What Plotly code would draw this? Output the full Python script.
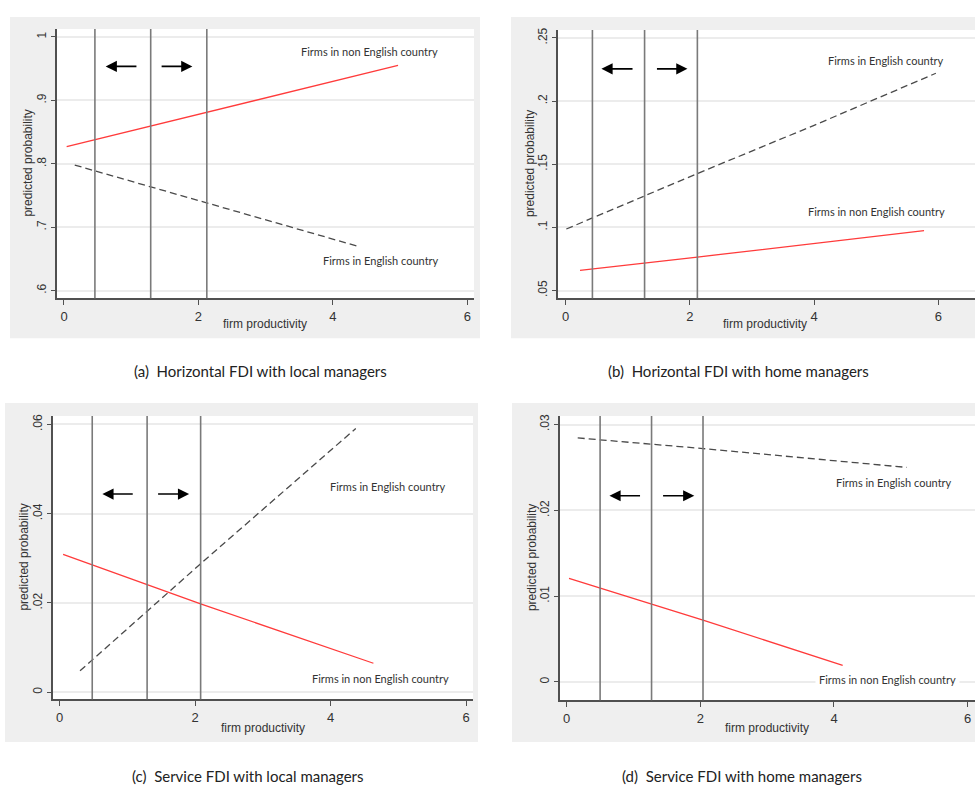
import plotly.graph_objects as go

W, H = 975, 787

# ---------------- data ----------------
panels = ["a", "b", "c", "d"]

# firm productivity thresholds (vertical lines)
vlines_a = [0.46, 1.29, 2.125]
vlines_b = [0.43, 1.27, 2.12]
vlines_c = [0.48, 1.29, 2.08]
vlines_d = [0.50, 1.27, 2.04]

# Firms in English country (dashed)
eng_x_a = [0.16, 2.125, 4.37]
eng_y_a = [0.798, 0.738, 0.670]
eng_x_b = [0.01, 2.12, 4.0, 5.96]
eng_y_b = [0.0987, 0.1426, 0.1808, 0.222]
eng_x_c = [0.30, 1.29, 2.08, 4.37]
eng_y_c = [0.0048, 0.0181, 0.0288, 0.0591]
eng_x_d = [0.165, 2.04, 5.09]
eng_y_d = [0.02844, 0.0272, 0.0250]

# Firms in non English country (solid red)
non_x_a = [0.04, 2.125, 4.97]
non_y_a = [0.827, 0.881, 0.955]
non_x_b = [0.23, 2.12, 5.77]
non_y_b = [0.066, 0.0765, 0.0974]
non_x_c = [0.05, 2.08, 4.63]
non_y_c = [0.0309, 0.0198, 0.0065]
non_x_d = [0.035, 2.04, 4.13]
non_y_d = [0.01206, 0.0072, 0.00194]

# y ticks
yt_vals_a = [0.6, 0.7, 0.8, 0.9, 1.0]
yt_text_a = [".6", ".7", ".8", ".9", "1"]
yt_vals_b = [0.05, 0.10, 0.15, 0.20, 0.25]
yt_text_b = [".05", ".1", ".15", ".2", ".25"]
yt_vals_c = [0.0, 0.02, 0.04, 0.06]
yt_text_c = ["0", ".02", ".04", ".06"]
yt_vals_d = [0.0, 0.01, 0.02, 0.03]
yt_text_d = ["0", ".01", ".02", ".03"]

xt_vals = [0, 2, 4, 6]
xt_text = ["0", "2", "4", "6"]

# label positions (data coords)
lab_eng_a, lab_non_a = (4.72, 0.647), (4.55, 0.977)
lab_eng_b, lab_non_b = (5.15, 0.232), (5.0, 0.1126)
lab_eng_c, lab_non_c = (4.85, 0.046), (4.73, 0.0031)
lab_eng_d, lab_non_d = (4.9, 0.0233), (4.8, 0.0003)

# arrows: (tail x, head x, y)
arr_a = [(1.10, 0.62, 0.9535), (1.43, 1.91, 0.9535)]
arr_b = [(1.10, 0.575, 0.2255), (1.445, 1.96, 0.2255)]
arr_c = [(1.10, 0.63, 0.0444), (1.43, 1.91, 0.0444)]
arr_d = [(1.12, 0.64, 0.0217), (1.42, 1.91, 0.0217)]

captions = ["(a)  Horizontal FDI with local managers",
            "(b)  Horizontal FDI with home managers",
            "(c)  Service FDI with local managers",
            "(d)  Service FDI with home managers"]

# ---------------- layout geometry (pixels) ----------------
geo = {
    "a": dict(px=(57, 474), py=(27, 297), xr=(-0.104, 6.1), yr=(0.588, 1.0126), bg=(10, 480, 15, 337)),
    "b": dict(px=(558, 975), py=(28, 297), xr=(-0.124, 6.59), yr=(0.0439, 0.2563), bg=(511, 975, 15, 337)),
    "c": dict(px=(53, 473), py=(415, 699), xr=(-0.099, 6.1), yr=(-0.00156, 0.0619), bg=(5, 478, 402, 742)),
    "d": dict(px=(560, 975), py=(415, 700), xr=(-0.1, 6.11), yr=(-0.00213, 0.031), bg=(512, 975, 402, 742)),
}
cap_pos = [(260, 370), (738, 370), (248, 776), (742, 776)]
xtitle_pos = {"a": (265, 323), "b": (765, 323), "c": (263, 728), "d": (767, 728)}
ytitle_x = {"a": 28, "b": 530, "c": 24, "d": 532}

data = {
    "a": (vlines_a, eng_x_a, eng_y_a, non_x_a, non_y_a, yt_vals_a, yt_text_a, lab_eng_a, lab_non_a, arr_a),
    "b": (vlines_b, eng_x_b, eng_y_b, non_x_b, non_y_b, yt_vals_b, yt_text_b, lab_eng_b, lab_non_b, arr_b),
    "c": (vlines_c, eng_x_c, eng_y_c, non_x_c, non_y_c, yt_vals_c, yt_text_c, lab_eng_c, lab_non_c, arr_c),
    "d": (vlines_d, eng_x_d, eng_y_d, non_x_d, non_y_d, yt_vals_d, yt_text_d, lab_eng_d, lab_non_d, arr_d),
}

AX_FONT = "Liberation Sans Narrow, Arial Narrow, Liberation Sans, Arial"
LAB_FONT = "Lato, Carlito, Calibri, sans-serif"

fig = go.Figure()
shapes, annotations = [], []
layout = dict(width=W, height=H, margin=dict(l=0, r=0, t=0, b=0),
              paper_bgcolor="white", plot_bgcolor="white", showlegend=False)

for i, p in enumerate(panels):
    g = geo[p]
    vl, ex, ey, nx, ny, ytv, ytt, le, ln, arrs = data[p]
    n = "" if i == 0 else str(i + 1)
    xa, ya = "x" + n, "y" + n
    bx0, bx1, by0, by1 = g["bg"]
    shapes.append(dict(type="rect", xref="paper", yref="paper", layer="below",
                       x0=bx0 / W, x1=bx1 / W, y0=1 - by1 / H, y1=1 - by0 / H,
                       fillcolor="#efefef", line=dict(width=0)))
    shapes.append(dict(type="rect", xref="paper", yref="paper", layer="below",
                       x0=g["px"][0] / W, x1=g["px"][1] / W, y0=1 - g["py"][1] / H, y1=1 - g["py"][0] / H,
                       fillcolor="white", line=dict(width=0)))
    layout["xaxis" + n] = dict(domain=[g["px"][0] / W, g["px"][1] / W], range=list(g["xr"]),
                               anchor=ya, showgrid=False, zeroline=False, showline=True,
                               linecolor="#505050", linewidth=1.5, ticks="outside", ticklen=5,
                               tickwidth=1, tickcolor="#505050", tickvals=xt_vals, ticktext=xt_text,
                               tickfont=dict(family=AX_FONT, size=13, color="#333"), fixedrange=True)
    layout["yaxis" + n] = dict(domain=[1 - g["py"][1] / H, 1 - g["py"][0] / H], range=list(g["yr"]),
                               anchor=xa, showgrid=True, gridcolor="#ececec", gridwidth=1.5,
                               zeroline=False, showline=True,
                               linecolor="#505050", linewidth=1.5, ticks="outside", ticklen=4,
                               tickwidth=1, tickcolor="#505050", tickvals=ytv, ticktext=ytt,
                               tickangle=-90,
                               tickfont=dict(family=AX_FONT, size=12, color="#333"),
                               fixedrange=True)
    for v in vl:
        shapes.append(dict(type="line", xref=xa, yref=ya + " domain", x0=v, x1=v, y0=0, y1=1,
                           line=dict(color="#7a7a7a", width=1.6)))
    fig.add_trace(go.Scatter(x=ex, y=ey, mode="lines", xaxis=xa, yaxis=ya,
                             line=dict(color="#4a4a4a", width=1.3, dash="7px,4px")))
    fig.add_trace(go.Scatter(x=nx, y=ny, mode="lines", xaxis=xa, yaxis=ya,
                             line=dict(color="#ff3b3b", width=1.3)))
    annotations.append(dict(x=le[0], y=le[1], xref=xa, yref=ya, text="Firms in English country",
                            xanchor="center", yanchor="middle",
                            showarrow=False, font=dict(family=LAB_FONT, size=11, color="#333"),
                            bgcolor="white", borderpad=3))
    annotations.append(dict(x=ln[0], y=ln[1], xref=xa, yref=ya, text="Firms in non English country",
                            xanchor="center", yanchor="middle",
                            showarrow=False, font=dict(family=LAB_FONT, size=11, color="#333"),
                            bgcolor="white", borderpad=3))
    for tx, hx, yy in arrs:
        annotations.append(dict(x=hx, y=yy, ax=tx, ay=yy, xref=xa, yref=ya, axref=xa, ayref=ya,
                                text="", showarrow=True, arrowhead=2, arrowsize=1.4,
                                arrowwidth=1.6, arrowcolor="black"))
    tx, ty = xtitle_pos[p]
    annotations.append(dict(x=tx / W, y=1 - ty / H, xref="paper", yref="paper",
                            xanchor="center", yanchor="middle",
                            text="firm productivity", showarrow=False,
                            font=dict(family=AX_FONT, size=12, color="#333")))
    yc = (g["py"][0] + g["py"][1]) / 2
    annotations.append(dict(x=ytitle_x[p] / W, y=1 - yc / H, xref="paper", yref="paper",
                            xanchor="center", yanchor="middle",
                            text="predicted probability", showarrow=False, textangle=-90,
                            font=dict(family=AX_FONT, size=12, color="#333")))
    cx, cy = cap_pos[i]
    annotations.append(dict(x=cx / W, y=1 - cy / H, xref="paper", yref="paper",
                            xanchor="center", yanchor="middle",
                            text=captions[i], showarrow=False,
                            font=dict(family=LAB_FONT, size=15, color="#222")))

layout["shapes"] = shapes
layout["annotations"] = annotations
fig.update_layout(**layout)
fig.write_html("out.html", config={"displayModeBar": False},
               post_script="document.body.style.margin='0';document.body.style.padding='0';")
